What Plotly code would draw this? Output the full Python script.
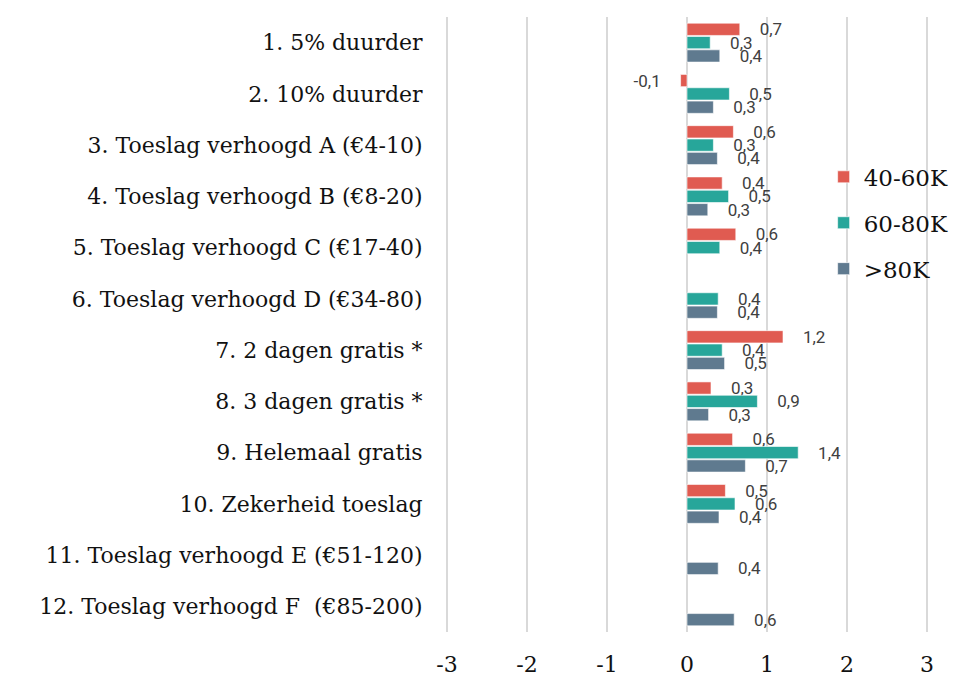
import plotly.graph_objects as go

categories = [
    "1. 5% duurder",
    "2. 10% duurder",
    "3. Toeslag verhoogd A (€4-10)",
    "4. Toeslag verhoogd B (€8-20)",
    "5. Toeslag verhoogd C (€17-40)",
    "6. Toeslag verhoogd D (€34-80)",
    "7. 2 dagen gratis *",
    "8. 3 dagen gratis *",
    "9. Helemaal gratis",
    "10. Zekerheid toeslag",
    "11. Toeslag verhoogd E (€51-120)",
    "12. Toeslag verhoogd F  (€85-200)",
]

series_names = ["40-60K", "60-80K", ">80K"]
values_40_60 = [0.66, -0.08, 0.58, 0.44, 0.61, None, 1.20, 0.30, 0.57, 0.48, None, None]
values_60_80 = [0.29, 0.53, 0.33, 0.52, 0.41, 0.39, 0.44, 0.88, 1.39, 0.60, None, None]
values_80_plus = [0.41, 0.33, 0.38, 0.26, None, 0.38, 0.47, 0.27, 0.73, 0.40, 0.39, 0.59]

x_ticks = [-3, -2, -1, 0, 1, 2, 3]

colors = ["#E05B51", "#27A69A", "#5F7A8F"]

pad = "\u00a0" * 4


def label(v):
    if v is None:
        return ""
    s = f"{v:.1f}".replace(".", ",")
    return s + pad if v < 0 else pad + s


fig = go.Figure()
for name, vals, col in zip(series_names, [values_40_60, values_60_80, values_80_plus], colors):
    fig.add_trace(go.Bar(
        name=name,
        legendgroup=name,
        y=categories,
        x=vals,
        orientation="h",
        marker=dict(color=col, line=dict(color="rgba(255,255,255,0.6)", width=1)),
        text=[label(v) for v in vals],
        textposition="outside",
        constraintext="none",
        cliponaxis=False,
        textfont=dict(family="Roboto", size=17, color="#404040"),
    ))

fig.update_layout(
    width=960,
    height=677,
    barmode="group",
    bargap=0.22,
    bargroupgap=0.08,
    plot_bgcolor="white",
    paper_bgcolor="white",
    margin=dict(l=443, r=29, t=17, b=45, autoexpand=False),
    font=dict(family="DejaVu Serif", size=22, color="#111111"),
    legend=dict(
        x=0.78, y=0.775, xanchor="left", yanchor="top",
        bgcolor="rgba(255,255,255,0)",
        font=dict(family="DejaVu Serif", size=23, color="#111111"),
        itemwidth=30,
        tracegroupgap=13,
    ),
)

fig.update_xaxes(
    range=[-3.05, 3.05],
    tickvals=x_ticks,
    ticktext=[str(t) for t in x_ticks],
    showgrid=True,
    gridcolor="#D9D9D9",
    gridwidth=2,
    zeroline=True,
    zerolinecolor="#D9D9D9",
    zerolinewidth=2,
    ticks="outside",
    ticklen=13,
    tickcolor="rgba(0,0,0,0)",
    tickfont=dict(family="DejaVu Serif", size=22, color="#111111"),
    showline=False,
    automargin=False,
)

fig.update_yaxes(
    autorange="reversed",
    ticks="outside",
    ticklen=15,
    tickcolor="rgba(0,0,0,0)",
    showgrid=False,
    showline=False,
    automargin=False,
    tickfont=dict(family="DejaVu Serif", size=22, color="#111111"),
)

fig.write_html("out.html")
